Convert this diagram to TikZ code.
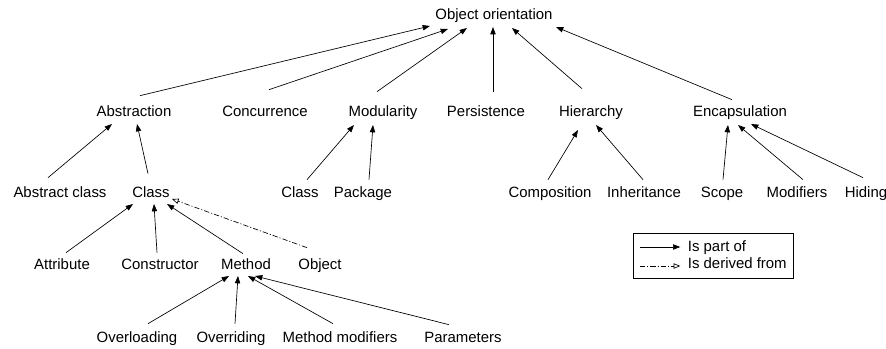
\documentclass[tikz,border=0pt]{standalone}
\usepackage{fontspec}
\setmainfont{Liberation Sans}
\usetikzlibrary{arrows.meta,calc}
\begin{document}
\begin{tikzpicture}[x=0.75pt,y=-0.75pt,
  lbl/.style={inner sep=2pt,text height=7.8pt,text depth=2.3pt,anchor=base,font=\fontsize{11.2}{13}\selectfont},
  part/.style={line width=0.5pt,-{Triangle[length=5.5pt,width=4pt]}},
  derived/.style={line width=0.5pt,dash pattern=on 4pt off 1.5pt on 0.8pt off 1.5pt,-{Triangle[open,length=5pt,width=4pt]}}]
\useasboundingbox (0,0) rectangle (886,349);
% top
\node[lbl] (oo) at (494,20) {Object orientation};
% second row
\node[lbl] (abstr) at (134,117) {Abstraction};
\node[lbl] (conc) at (265,117) {Concurrence};
\node[lbl] (modul) at (383,117) {Modularity};
\node[lbl] (pers) at (486,117) {Persistence};
\node[lbl] (hier) at (591,117) {Hierarchy};
\node[lbl] (encap) at (740,117) {Encapsulation};
% third row
\node[lbl] (abscl) at (60,198) {Abstract class};
\node[lbl] (class) at (151,198) {Class};
\node[lbl] (modcl) at (300,198) {Class};
\node[lbl] (pack) at (363,198) {Package};
\node[lbl] (comp) at (550,198) {Composition};
\node[lbl] (inher) at (644,198) {Inheritance};
\node[lbl] (scope) at (722,198) {Scope};
\node[lbl] (modif) at (797,198) {Modifiers};
\node[lbl] (hid) at (866,198) {Hiding};
% members of a class
\node[lbl] (attr) at (62,270) {Attribute};
\node[lbl] (constr) at (160,270) {Constructor};
\node[lbl] (meth) at (246,270) {Method};
\node[lbl] (obj) at (320,270) {Object};
% about methods
\node[lbl] (overl) at (137,342) {Overloading};
\node[lbl] (overr) at (231,342) {Overriding};
\node[lbl] (methmod) at (340,342) {Method modifiers};
\node[lbl] (param) at (463,342) {Parameters};

\draw[part] ($(abstr.north)+(6,-8)$) -- ($(oo.south)+(-64,0)$);
\draw[part] ($(conc.north)+(4,-14)$) -- ($(oo.south)+(-46,3)$);
\draw[part] ($(modul.north)+(-6,-12)$) -- ($(oo.south)+(-27,2)$);
\draw[part] ($(pers.north)+(7,-12)$) -- ($(oo.south)+(-1,1)$);
\draw[part] ($(hier.north)+(-9,-15)$) -- ($(oo.south)+(18,2)$);
\draw[part] ($(encap.north)+(-8,-4)$) -- ($(oo.south)+(62,1)$);

\draw[part] ($(abscl.north)+(-12,-7)$) -- ($(abstr.south)+(-22,1)$);
\draw[part] ($(class.north)+(-3,-11)$) -- ($(abstr.south)+(3,1)$);
\draw[part] ($(modcl.north)+(7,-5)$) -- ($(modul.south)+(-29,2)$);
\draw[part] ($(pack.north)+(6,-5)$) -- ($(modul.south)+(-10,2)$);
\draw[part] ($(comp.north)+(-2,-5)$) -- ($(hier.south)+(-13,7)$);
\draw[part] ($(inher.north)+(-1,-5)$) -- ($(hier.south)+(5,2)$);
\draw[part] ($(scope.north)+(1,-5)$) -- ($(encap.south)+(-12,2)$);
\draw[part] ($(modif.north)+(6,-5)$) -- ($(encap.south)+(-2,2)$);
\draw[part] ($(hid.north)+(-3,-7)$) -- ($(encap.south)+(11,1)$);

\draw[part] ($(attr.north)+(4,-4)$) -- ($(class.south)+(-18,0)$);
\draw[part] ($(constr.north)+(-3,-4)$) -- ($(class.south)+(3,0)$);
\draw[part] ($(meth.north)+(-3,-3)$) -- ($(class.south)+(16,0)$);
\draw[derived] ($(obj.north)+(-13,-9)$) -- ($(class.south)+(21,-5)$);

\draw[part] ($(overl.north)+(11,-5)$) -- ($(meth.south)+(-17,0)$);
\draw[part] ($(overr.north)+(4,-5)$) -- ($(meth.south)+(-8,0)$);
\draw[part] ($(methmod.north)+(-7,-5)$) -- ($(meth.south)+(2,0)$);
\draw[part] ($(param.north)+(-14,-4)$) -- ($(meth.south)+(9,0)$);

% legend
\draw[line width=0.5pt] (633,233) rectangle (793,278);
\node[lbl,anchor=base west] (tpart) at (685,252) {Is part of};
\node[lbl,anchor=base west] (tder) at (685,269) {Is derived from};
\coordinate (lp) at (640,247);
\coordinate (ld) at (640,266);
\draw[part,shorten >=3.5pt] (lp) -- (lp-|tpart.west);
\draw[derived,shorten >=3.5pt] (ld) -- (ld-|tder.west);
\end{tikzpicture}
\end{document}
